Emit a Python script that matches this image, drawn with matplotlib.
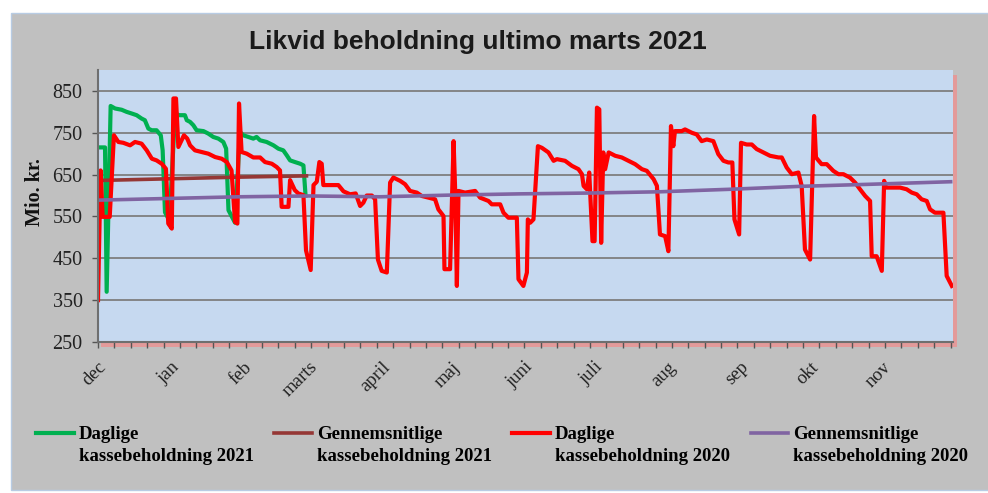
import matplotlib
matplotlib.use("Agg")
import matplotlib.pyplot as plt
from matplotlib.patches import Rectangle
from matplotlib.legend_handler import HandlerLine2D

# x = day number counted from 1 dec
month_labels = ["dec", "jan", "feb", "marts", "april", "maj", "juni",
                "juli", "aug", "sep", "okt", "nov"]
month_days = [0, 31, 62, 90, 121, 151, 182, 212, 243, 274, 304, 335]

green_days = [0, 3, 3.7, 5.4, 7.3, 10.1, 12.2, 14.4, 16.5, 18.6, 20, 21.5, 22.9, 25,
              26.8, 27.6, 28.6, 30.5, 32.9, 34.7, 37.1, 37.9, 39.3, 40.7, 42.1, 45,
              47.1, 49.2, 51.4, 53.5, 54.7, 55.7, 58.5, 60.6, 62, 64.2, 66.3, 67.7,
              69.2, 72, 74.9, 77, 79.1, 80.6, 82, 84.1, 86.3, 87.7, 88.6]
green_vals = [715, 715, 370, 814, 808, 805, 800, 796, 792, 784, 780, 760, 756, 756,
              744, 708, 560, 540, 796, 792, 792, 780, 776, 768, 756, 754,
              748, 740, 736, 728, 712, 565, 535, 752, 744, 740, 736, 740,
              732, 728, 720, 712, 708, 696, 684, 680, 676, 672, 600]

brown_days = [0, 30, 60, 89]
brown_vals = [636, 640, 644, 647]

red_days = [0, 1.1, 2, 5, 6.8, 8.7, 10.8, 13.7, 15.8, 18.6, 20.8, 23, 25, 27.2, 29, 30,
            31.5, 32.2, 33.3, 34.3, 36.7, 38.1, 39.3, 41.4, 44.3, 47.1, 50, 52.8, 55,
            57, 58.5, 59.5, 60.2, 61.3, 63.5, 66.3, 69.2, 71.3, 74.2, 76.3, 77.7, 78.4,
            81.3, 82, 84, 85.5, 87.7, 88.8, 90.8, 92, 93.4, 94.5, 95.5, 96.2, 102.6,
            104.8, 107.6, 110, 111.9, 113.3, 114.7, 116.9, 118.3, 119.5, 121.1, 123.3,
            124.7, 126.1, 129, 131.1, 133.2, 136.1, 138.2, 141.1, 143.9, 145.3, 147.5,
            147.9, 150.3, 151.8, 152.5, 153.2, 153.9, 156.7, 161, 163.1, 166.7, 168.1,
            171.7, 173.1, 175.2, 178.8, 179.5, 181.6, 183.1, 183.5, 184.5, 185.9, 187.8,
            189.5, 192.3, 194.5, 195.9, 199.4, 202.3, 205.1, 206.6, 207.3, 208.7, 209.7,
            211.1, 212, 213, 214, 214.8, 215.7, 216.5, 218, 220.8, 223.6, 226.5, 229.3,
            232.2, 234.3, 237.2, 238.6, 239.9, 242.1, 243.5, 244.6, 245.6, 246.3, 249.2,
            250.6, 253.5, 255.6, 257.7, 259.9, 262.7, 264.8, 267, 269.1, 270.8, 271.7,
            273.7, 274.5, 276.9, 279.1, 281.2, 284.1, 286.9, 290.5, 291.9, 294, 296.2,
            299, 300.4, 301.8, 304, 305.7, 306.5, 308.9, 311.1, 313.9, 316.1, 318.2, 321,
            323.2, 325.3, 327.5, 329.6, 330.3, 332.4, 334.6, 335.6, 336.4, 342.4, 345.2,
            347.4, 349.5, 351.6, 353.8, 355.2, 357.3, 360.9, 362.3, 364.5]
red_vals = [350, 660, 549, 549, 744, 728, 726, 720, 728, 724, 708, 688, 684, 676, 664, 533,
            521, 832, 832, 716, 744, 736, 720, 708, 704, 700, 692, 688, 680,
            660, 537, 533, 820, 704, 700, 691, 691, 680, 676, 668, 660, 573,
            573, 637, 613, 605, 601, 469, 422, 625, 633, 680, 676, 625, 625,
            610, 603, 605, 575, 583, 600, 600, 591, 447, 420, 416,
            631, 643, 635, 627, 611, 607, 599, 595, 591, 567, 551,
            424, 424, 730, 607, 384, 611, 607, 611, 595, 587, 579,
            579, 559, 547, 547, 400, 384, 416, 543, 535, 543, 718,
            714, 703, 683, 687, 683, 671, 663, 651, 623, 615, 655,
            491, 491, 810, 806, 487, 703, 663, 703, 695, 691, 683, 675,
            663, 659, 639, 623, 507, 503, 467, 766, 718, 754, 754,
            758, 750, 746, 730, 734, 730, 699, 683, 679, 679, 543,
            507, 726, 722, 722, 711, 703, 695, 691, 691, 667, 651,
            655, 623, 471, 447, 790, 691, 675, 675, 659, 651, 651, 643,
            631, 615, 599, 587, 455, 455, 420, 635, 619, 619, 615,
            607, 603, 591, 587, 567, 559, 559, 408, 384]

purple_days = [0, 30, 60, 90, 120, 150, 180, 210, 240, 270, 300, 330, 364]
purple_vals = [589, 593, 597, 599, 597, 601, 604, 606, 609, 615, 622, 627, 633]

labels = ["Daglige\nkassebeholdning 2021", "Gennemsnitlige\nkassebeholdning 2021",
          "Daglige\nkassebeholdning 2020", "Gennemsnitlige\nkassebeholdning 2020"]


class FirstLineHandler(HandlerLine2D):
    # put the legend line level with the first text line
    def create_artists(self, legend, orig_handle, xdescent, ydescent, width, height,
                       fontsize, trans):
        arts = super().create_artists(legend, orig_handle, xdescent, ydescent, width,
                                      height, fontsize, trans)
        for a in arts:
            a.set_ydata([y + 9 for y in a.get_ydata()])
        return arts


W, H = 988, 493
fig = plt.figure(figsize=(W / 100, H / 100), dpi=100)
fig.patch.set_facecolor("white")

# gray chart frame
fig.add_artist(Rectangle((11 / W, 1 - 490 / H), 1, (490 - 13) / H, transform=fig.transFigure,
                         facecolor="#c0c0c0", edgecolor="#b8cce4", lw=1, zorder=0))

left, right, top, bottom = 98, 953, 70, 342
ax = fig.add_axes([left / W, 1 - bottom / H, (right - left) / W, (bottom - top) / H])
# reddish shadow right/below the plot area
fig.add_artist(Rectangle(((left + 3) / W, 1 - (bottom + 5) / H), (right - left + 1) / W,
                         (bottom - top) / H, transform=fig.transFigure,
                         facecolor="#e39a9a", edgecolor="none", zorder=0.5))
ax.set_zorder(1)
ax.set_facecolor("#c6d9f0")

l1, = ax.plot(green_days, green_vals, color="#00b050", lw=3, solid_joinstyle="round")
l2, = ax.plot(brown_days, brown_vals, color="#953735", lw=2.6)
l3, = ax.plot(red_days, red_vals, color="#ff0000", lw=3, solid_joinstyle="round")
l4, = ax.plot(purple_days, purple_vals, color="#8064a2", lw=2.6)

ax.set_xlim(0, 365)
ax.set_ylim(250, 900)
ax.set_yticks(range(250, 851, 100))
ax.grid(axis="y", color="#7f7f7f", lw=1.3)
ax.set_axisbelow(True)

ax.xaxis.remove_overlapping_locs = False
ax.set_xticks(range(0, 366, 7))
ax.set_xticklabels([])
ax.set_xticks(month_days, minor=True)
ax.set_xticklabels(month_labels, minor=True, rotation=45, ha="right", va="top",
                   rotation_mode="anchor", fontsize=13.5, family="Liberation Serif",
                   color="#222222")
ax.tick_params(axis="x", which="minor", length=0, pad=12)
ax.tick_params(axis="x", which="major", length=4, width=1, color="#555555", direction="out")
ax.tick_params(axis="y", length=4, width=1, color="#555555", pad=7, labelsize=14.5,
               labelcolor="#222222")
for t in ax.get_yticklabels():
    t.set_family("Liberation Serif")

for s in ["top", "right"]:
    ax.spines[s].set_visible(False)
ax.spines["left"].set_color("#6f6f6f")
ax.spines["left"].set_linewidth(1.5)
ax.spines["bottom"].set_color("#6f6f6f")
ax.spines["bottom"].set_linewidth(1.5)

fig.text(478 / W, 1 - 42 / H, "Likvid beholdning ultimo marts 2021", ha="center", va="center",
         fontsize=19, fontweight="bold", family="Liberation Sans", color="#1a1a1a")
fig.text(35 / W, 1 - 192 / H, "Mio. kr.", rotation=90, ha="center", va="center",
         fontsize=14.5, fontweight="bold", family="Liberation Serif", color="#111111")

leg = ax.legend([l1, l2, l3, l4], labels, ncol=4, loc="upper left",
                bbox_to_anchor=(36 / W, 1 - 426 / H), bbox_transform=fig.transFigure,
                frameon=False, borderpad=0, borderaxespad=0, handlelength=2.0,
                handletextpad=0.27, columnspacing=1.1,
                handler_map={matplotlib.lines.Line2D: FirstLineHandler()},
                prop={"family": "Liberation Serif", "weight": "bold", "size": 13.5})
for t in leg.get_texts():
    t.set_linespacing(1.35)

fig.savefig("out.png", dpi=100)
